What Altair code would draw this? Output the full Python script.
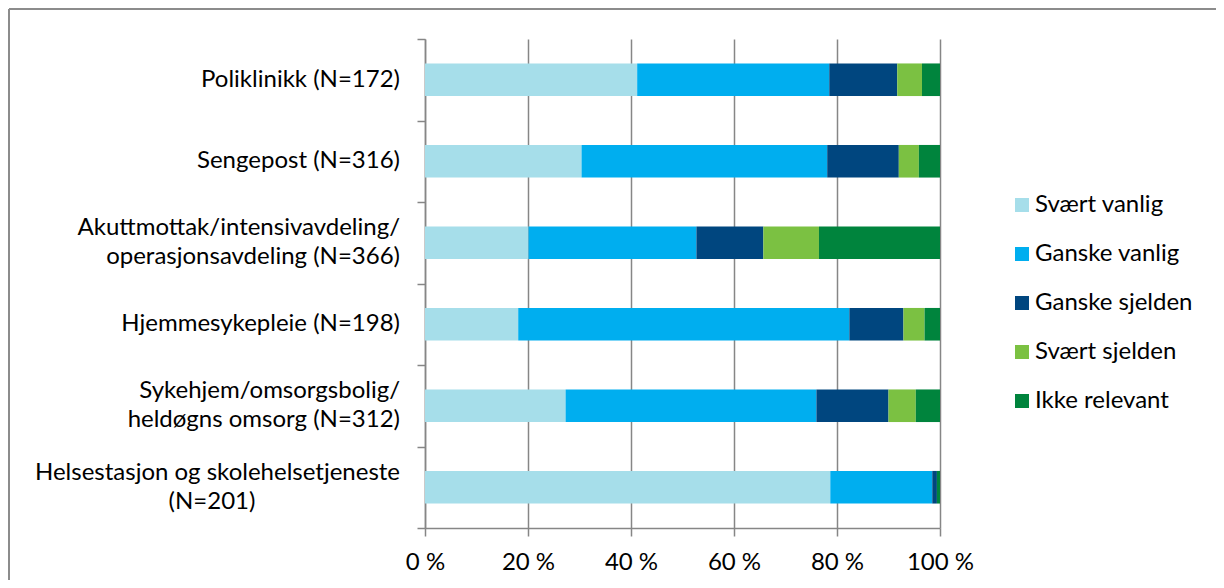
import altair as alt
import pandas as pd

categories = [
    "Poliklinikk (N=172)",
    "Sengepost (N=316)",
    "Akuttmottak/intensivavdeling/|operasjonsavdeling (N=366)",
    "Hjemmesykepleie (N=198)",
    "Sykehjem/omsorgsbolig/|heldøgns omsorg (N=312)",
    "Helsestasjon og skolehelsetjeneste|(N=201)",
]
series = ["Svært vanlig", "Ganske vanlig", "Ganske sjelden", "Svært sjelden", "Ikke relevant"]
colors = ["#A6DEEA", "#00AEEF", "#00467F", "#7BC142", "#00843D"]

svaert_vanlig = [41.2, 30.4, 20.1, 18.1, 27.3, 78.7]
ganske_vanlig = [37.3, 47.7, 32.6, 64.3, 48.7, 19.8]
ganske_sjelden = [13.2, 13.9, 13.0, 10.5, 14.0, 0.9]
svaert_sjelden = [4.8, 3.9, 10.8, 4.1, 5.3, 0.0]
ikke_relevant = [3.5, 4.1, 23.5, 3.0, 4.7, 0.6]

x_ticks = [0, 20, 40, 60, 80, 100]

rows = []
for s_i, (name, vals) in enumerate(zip(series, [svaert_vanlig, ganske_vanlig, ganske_sjelden, svaert_sjelden, ikke_relevant])):
    for c, v in zip(categories, vals):
        rows.append({"kategori": c, "svar": name, "andel": v, "ord": s_i})
df = pd.DataFrame(rows)

# label lines (one row per printed line)
centered_lines = {"(N=201)"}
single, first, second, center = [], [], [], []
for c in categories:
    lines = c.split("|")
    if len(lines) == 1:
        single.append({"kategori": c, "tekst": lines[0]})
    else:
        for i, t in enumerate(lines):
            row = {"kategori": c, "tekst": t}
            if t in centered_lines:
                center.append(row)
            elif i == 0:
                first.append(row)
            else:
                second.append(row)

FONT = "Lato"
FS = 24
GRAY = "#868686"
LH = 29

x_enc = alt.X("andel:Q", stack="zero",
              scale=alt.Scale(domain=[0, 100], nice=False),
              axis=alt.Axis(title=None, values=x_ticks, labelExpr="datum.value + ' %'",
                            tickSize=8, tickColor=GRAY, tickWidth=1.5,
                            domainColor=GRAY, domainWidth=1.5, labelFlush=False,
                            grid=True, gridColor=GRAY, gridWidth=1.5,
                            labelFont=FONT, labelFontSize=FS, labelColor="#000000", labelPadding=14))

bars = alt.Chart(df).mark_bar().encode(
    y=alt.Y("kategori:N", sort=categories,
            scale=alt.Scale(domain=categories, paddingInner=0.6, paddingOuter=0.3),
            axis=None),
    x=x_enc,
    color=alt.Color("svar:N", sort=series,
                    scale=alt.Scale(domain=series, range=colors),
                    legend=alt.Legend(title=None, orient="none", legendX=585, legendY=154,
                                      symbolType="square", symbolSize=196, symbolStrokeWidth=0,
                                      labelFont=FONT, labelFontSize=FS, labelColor="#000000",
                                      labelOffset=1, rowPadding=25, padding=0)),
    order=alt.Order("ord:Q"),
)

axis_layer = alt.Chart(df).mark_bar(opacity=0).encode(
    y=alt.Y("kategori:N", sort=categories,
            scale=alt.Scale(domain=categories, paddingInner=0, paddingOuter=0),
            axis=alt.Axis(title=None, labels=False, tickBand="extent", tickSize=8,
                          tickColor=GRAY, tickWidth=1.5, domainColor=GRAY, domainWidth=1.5,
                          grid=False)),
    x=alt.X("andel:Q", stack="zero"),
    order=alt.Order("ord:Q"),
)


def label_layer(rows_, align, x_px, dy):
    return alt.Chart(pd.DataFrame(rows_)).mark_text(
        align=align, baseline="middle", dy=dy, font=FONT, fontSize=FS, color="#000000"
    ).encode(
        y=alt.Y("kategori:N", sort=categories,
                scale=alt.Scale(type="point", domain=categories, padding=0.5), axis=None),
        x=alt.value(x_px),
        text="tekst:N",
    )


lab_single = label_layer(single, "right", -25, 0)
lab_first = label_layer(first, "right", -25, -LH / 2)
lab_second = label_layer(second, "right", -25, LH / 2)
lab_center = label_layer(center, "center", -213, LH / 2)

frame_data = alt.Data(values=[{}])
frame_left = alt.Chart(frame_data).mark_rule(color="#8C8C8C", strokeWidth=2).encode(
    x=alt.value(-416), y=alt.value(-30), y2=alt.value(560))
frame_top = alt.Chart(frame_data).mark_rule(color="#8C8C8C", strokeWidth=2).encode(
    x=alt.value(-416), x2=alt.value(800), y=alt.value(-30))

chart = alt.layer(
    bars, axis_layer, lab_single, lab_first, lab_second, lab_center, frame_left, frame_top
).resolve_scale(y="independent").properties(
    width=515, height=489,
    autosize=alt.AutoSizeParams(type="none"),
    padding={"left": 417, "top": 31, "right": 276, "bottom": 52},
).configure_view(stroke=None)

chart.save("out.html", embed_options={"renderer": "svg", "actions": False})
